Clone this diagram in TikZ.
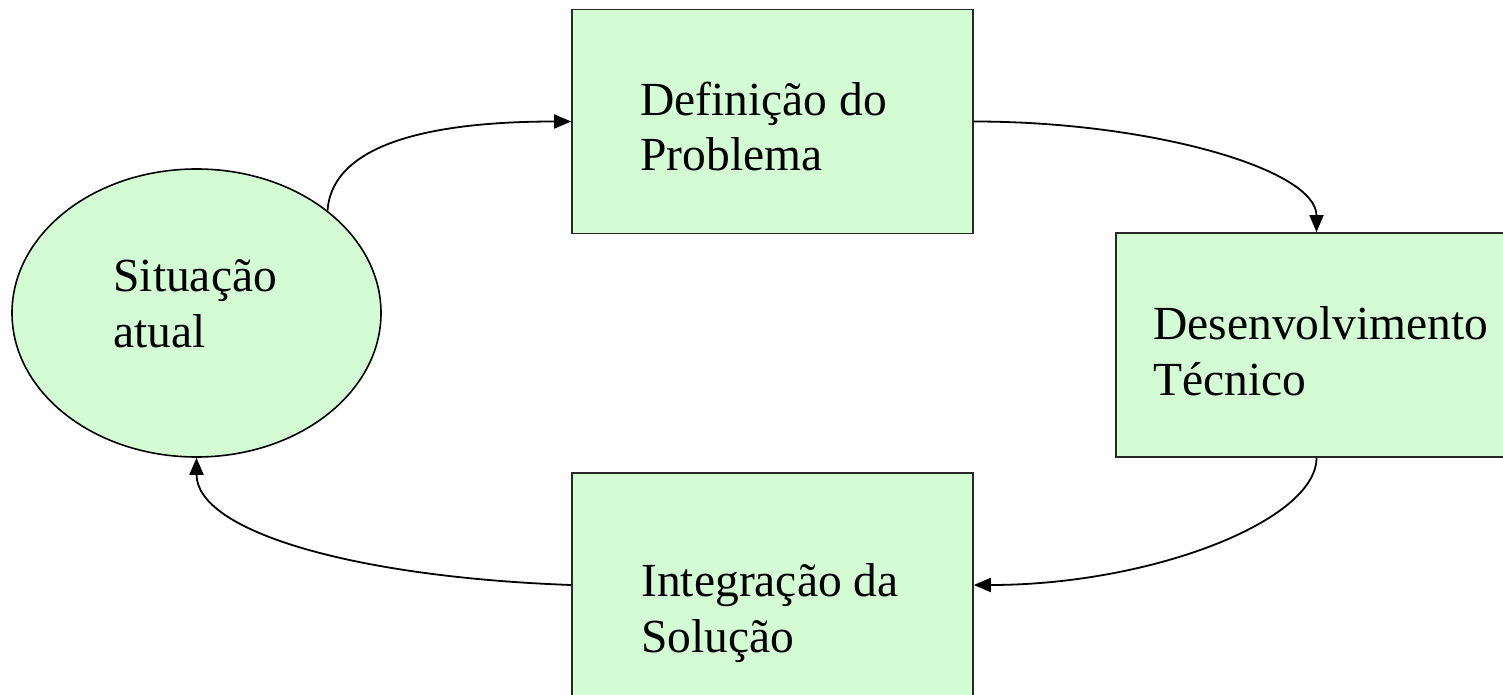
\documentclass[tikz,border=0pt]{standalone}
\usepackage{fontspec}
\setmainfont{Liberation Serif}
\usetikzlibrary{arrows.meta,shapes.geometric}
\definecolor{boxfill}{RGB}{212,252,212}
\definecolor{boxline}{RGB}{40,40,40}
\tikzset{
  shapebox/.style={draw=boxline, fill=boxfill, line width=0.8pt, rectangle, minimum width=200.5pt, minimum height=112pt, inner sep=0pt},
  shapeell/.style={draw=black, fill=boxfill, line width=0.8pt, ellipse, minimum width=184.5pt, minimum height=144pt, inner sep=0pt},
  txtlabel/.style={anchor=base west, align=left, inner sep=0pt, font=\fontsize{23.75}{28}\selectfont},
  conn/.style={draw=black, line width=0.9pt, -{Triangle[length=8.5pt,width=7pt]}}
}
\begin{document}
\begin{tikzpicture}[x=0.5pt, y=-0.5pt]
\useasboundingbox (0,0) rectangle (1503,695);
\clip (0,0) rectangle (1503,695);
\fill[white] (0,0) rectangle (1503,695);
% shapes
\node[shapeell] (e) at (196.5,313) {};
\node[shapebox] (b1) at (772.5,121.5) {};
\node[shapebox] (b2) at (1316.5,345) {};
\node[shapebox] (b3) at (772.5,585) {};
% texts (anchor = baseline of the last line)
\node[txtlabel] (te) at (113,347) {Situação\\atual};
\node[txtlabel] (t1) at (640,171) {Definição do\\Problema};
\node[txtlabel] (t2) at (1153,395) {Desenvolvimento\\Técnico};
\node[txtlabel] (t3) at (641,652) {Integração da\\Solução};
% connectors
\draw[conn] (e.38) .. controls +(5,-72) and +(-125,0) .. (b1.west);
\draw[conn] (b1.east) .. controls +(177,0) and +(0,-63) .. (b2.north);
\draw[conn] (b2.south) .. controls +(0,63) and +(177,0) .. (b3.east);
\draw[conn] (b3.west) .. controls +(-220,-8) and +(0,73) .. (e.south);
\end{tikzpicture}
\end{document}
